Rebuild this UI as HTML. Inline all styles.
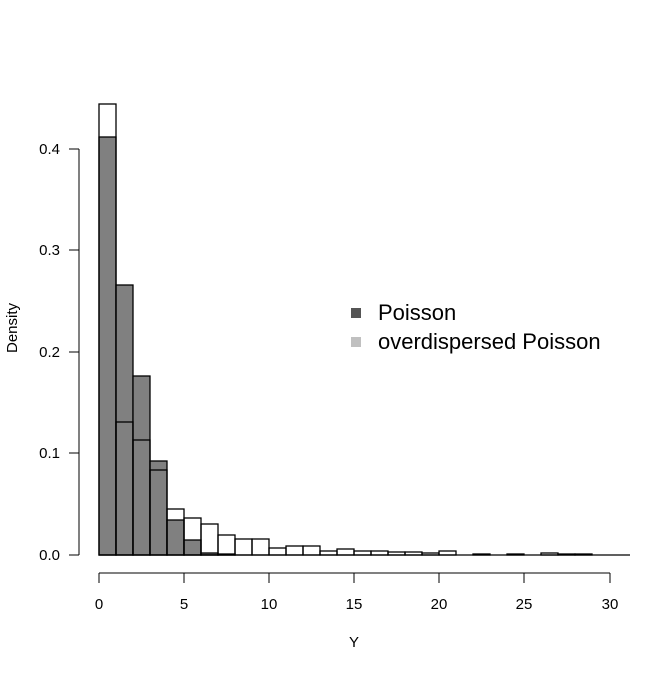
<!DOCTYPE html>
<html><head><style>body{margin:0;background:#fff}</style></head><body>
<svg width="672" height="672" xmlns="http://www.w3.org/2000/svg" font-family="Liberation Sans, sans-serif">
<rect width="672" height="672" fill="#fff"/>
<g stroke="#000" stroke-width="1.3" fill="#808080">
<rect x="99" y="137" width="17" height="418"/>
<rect x="116" y="285" width="17" height="270"/>
<rect x="133" y="376" width="17" height="179"/>
<rect x="150" y="461" width="17" height="94"/>
<rect x="167" y="520" width="17" height="35"/>
<rect x="184" y="540" width="17" height="15"/>
<rect x="201" y="553" width="17" height="2"/>
<rect x="218" y="554" width="17" height="1"/>
</g>
<g stroke="#000" stroke-width="1.3" fill="none">
<rect x="99" y="104" width="17" height="451"/>
<rect x="116" y="422" width="17" height="133"/>
<rect x="133" y="440" width="17" height="115"/>
<rect x="150" y="470" width="17" height="85"/>
<rect x="167" y="509" width="17" height="46"/>
<rect x="184" y="518" width="17" height="37"/>
<rect x="201" y="524" width="17" height="31"/>
<rect x="218" y="535" width="17" height="20"/>
<rect x="235" y="539" width="17" height="16"/>
<rect x="252" y="539" width="17" height="16"/>
<rect x="269" y="548" width="17" height="7"/>
<rect x="286" y="546" width="17" height="9"/>
<rect x="303" y="546" width="17" height="9"/>
<rect x="320" y="551" width="17" height="4"/>
<rect x="337" y="549" width="17" height="6"/>
<rect x="354" y="551" width="17" height="4"/>
<rect x="371" y="551" width="17" height="4"/>
<rect x="388" y="552" width="17" height="3"/>
<rect x="405" y="552" width="17" height="3"/>
<rect x="422" y="553" width="17" height="2"/>
<rect x="439" y="551" width="17" height="4"/>
<rect x="473" y="554" width="17" height="1"/>
<rect x="507" y="554" width="17" height="1"/>
<rect x="541" y="553" width="17" height="2"/>
<rect x="558" y="554" width="17" height="1"/>
<rect x="575" y="554" width="17" height="1"/>
</g>
<line x1="99" y1="555" x2="630" y2="555" stroke="#000" stroke-width="1.3"/>
<g stroke="#000" stroke-width="1">
<line x1="99" y1="573" x2="610" y2="573"/>
<line x1="99" y1="573" x2="99" y2="583"/><line x1="184" y1="573" x2="184" y2="583"/>
<line x1="269" y1="573" x2="269" y2="583"/><line x1="354" y1="573" x2="354" y2="583"/>
<line x1="439" y1="573" x2="439" y2="583"/><line x1="524" y1="573" x2="524" y2="583"/>
<line x1="610" y1="573" x2="610" y2="583"/>
<line x1="79" y1="149" x2="79" y2="555"/>
<line x1="69" y1="555" x2="79" y2="555"/><line x1="69" y1="453" x2="79" y2="453"/>
<line x1="69" y1="352" x2="79" y2="352"/><line x1="69" y1="250" x2="79" y2="250"/>
<line x1="69" y1="149" x2="79" y2="149"/>
</g>
<g font-size="15" text-anchor="middle" fill="#000">
<text x="99" y="609">0</text><text x="184" y="609">5</text><text x="269" y="609">10</text>
<text x="354" y="609">15</text><text x="439" y="609">20</text><text x="524" y="609">25</text><text x="610" y="609">30</text>
<text x="354" y="647">Y</text>
</g>
<g font-size="15" text-anchor="end">
<text x="60" y="560">0.0</text><text x="60" y="458">0.1</text><text x="60" y="357">0.2</text>
<text x="60" y="255">0.3</text><text x="60" y="154">0.4</text>
</g>
<text transform="translate(17,328) rotate(-90)" font-size="15" text-anchor="middle">Density</text>
<rect x="351" y="308" width="10" height="10" fill="#555"/>
<rect x="351" y="337" width="10" height="10" fill="#c0c0c0"/>
<text x="378" y="320" font-size="22">Poisson</text>
<text x="378" y="349" font-size="22">overdispersed Poisson</text>
</svg>
</body></html>
